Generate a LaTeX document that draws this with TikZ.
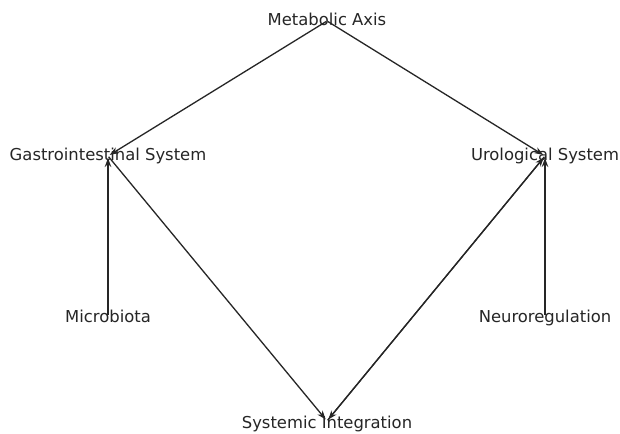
\documentclass[tikz,border=0pt]{standalone}
\usepackage{fontspec}
\setmainfont{DejaVu Sans}
\usetikzlibrary{arrows.meta}
\begin{document}
\begin{tikzpicture}[x=1pt,y=-1pt,
  lbl/.style={inner sep=0pt, text height=12pt, text depth=3.5pt, font=\fontsize{16.4}{18}\selectfont, text=black!85},
  edge/.style={draw=black!85, line width=1.3pt, -{Stealth[length=9pt,width=6.5pt]}, shorten >=2pt, shorten <=1pt}]
\useasboundingbox (0,0) rectangle (620,433);
\fill[white] (0,0) rectangle (620,433);
\coordinate (m) at (327,21);
\coordinate (g) at (108,156);
\coordinate (u) at (545,156);
\coordinate (mb) at (108,316);
\coordinate (n) at (545,316);
\coordinate (s) at (327,421);
\node[lbl] (tm) at (327,21) {Metabolic Axis};
\node[lbl] (tg) at (108,156) {Gastrointestinal System};
\node[lbl] (tu) at (545,156) {Urological System};
\node[lbl] (tmb) at (108,318) {Microbiota};
\node[lbl] (tn) at (545,318) {Neuroregulation};
\node[lbl] (ts) at (327,424) {Systemic Integration};
\draw[edge] (m) -- (g);
\draw[edge] (m) -- (u);
\draw[edge] (mb) -- (g);
\draw[edge] (n) -- (u);
\draw[edge] (g) -- (s);
\draw[edge] (u) -- (s);
\draw[edge] (s) -- (u);
\end{tikzpicture}
\end{document}
